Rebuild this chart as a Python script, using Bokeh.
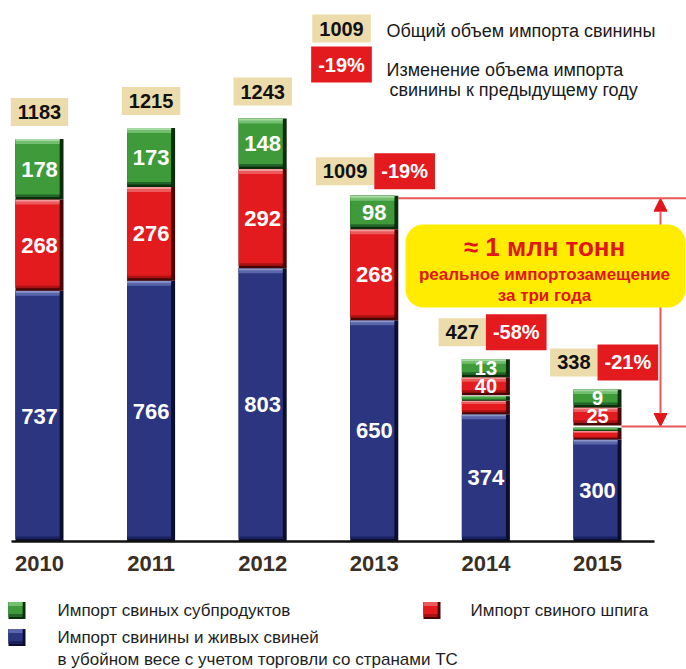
import numpy as np
from bokeh.plotting import figure
from bokeh.models import Range1d, FixedTicker, Arrow, NormalHead
from bokeh.layouts import column
from bokeh.core.properties import value
from bokeh.embed import file_html
from bokeh.resources import INLINE

# ---------------- data ----------------
years = ["2010", "2011", "2012", "2013", "2014", "2015"]
pork_live = [737, 766, 803, 650, 374, 300]   # blue
lard = [268, 276, 292, 268, 40, 25]          # red
offal = [178, 173, 148, 98, 13, 9]           # green
totals = [1183, 1215, 1243, 1009, 427, 338]
changes = ["", "", "", "-19%", "-58%", "-21%"]

legend_offal = "Импорт свиных субпродуктов"
legend_lard = "Импорт свиного шпига"
legend_pork = ["Импорт свинины и живых свиней",
               "в убойном весе с учетом торговли со странами ТС"]
key_total = "Общий объем импорта свинины"
key_change = ["Изменение объема импорта", "свинины к предыдущему году"]
callout = ["≈ 1 млн тонн", "реальное импортозамещение", "за три года"]

# ---------------- layout / style ----------------
W, MAIN_H, LEG_H = 686, 578, 91
FRAME_H = 541
YMAX = 1590
SPX = 111.6
X0 = -39 / SPX
X1 = X0 + W / SPX
PPU = FRAME_H / YMAX
BW = 48 / SPX
FONT = value("Liberation Sans")


def dy(px):
    return px / PPU


def dxu(px):
    return px / SPX


def px_x(page):
    return X0 + page / SPX


def px_y(page):
    return (FRAME_H - page) / PPU


BLUE = dict(main="#2b3580", mid="#1a2160", dark="#0a0e30", light="#5a66aa", lighter="#8c96c8")
RED = dict(main="#e31b1e", mid="#a81212", dark="#4a0505", light="#ec5a5c", lighter="#f39a9a")
GREEN = dict(main="#3f9b3a", mid="#23662a", dark="#0c2e0c", light="#72bf6e", lighter="#a8d8a4")
TAN = "#ecdcab"
BOXRED = "#e31b1e"
LINE_RED = "#e8585a"
HEAD_RED = "#e0161b"
YELLOW = "#ffec00"


def bevel(fig, x, bot, top, c, width):
    x = np.asarray(x, float)
    bot = np.asarray(bot, float)
    top = np.asarray(top, float)
    h = top - bot
    db = np.minimum(dy(5), 0.3 * h)
    dh = np.minimum(dy(5), 0.25 * h)
    r = dxu(4)
    xi = x - r / 2
    wi = width - r
    fig.vbar(x=x, width=width, bottom=bot, top=top, fill_color=c["dark"], line_color=None)
    fig.vbar(x=xi, width=wi, bottom=bot + db * 0.5, top=top, fill_color=c["mid"], line_color=None)
    fig.vbar(x=xi, width=wi, bottom=bot + db, top=top, fill_color=c["main"], line_color=None)
    fig.vbar(x=xi, width=wi, bottom=top - dh, top=top, fill_color=c["light"], line_color=None)
    fig.vbar(x=xi, width=wi, bottom=top - dh * 0.4, top=top, fill_color=c["lighter"], line_color=None)


p = figure(width=W, height=MAIN_H, x_range=Range1d(X0, X1), y_range=Range1d(0, YMAX),
           output_backend="svg", toolbar_location=None, y_axis_location=None,
           min_border_left=0, min_border_right=0, min_border_top=0,
           min_border_bottom=MAIN_H - FRAME_H,
           outline_line_color=None, background_fill_color="white", border_fill_color="white")
p.xgrid.visible = False
p.ygrid.visible = False

idx = np.arange(len(years))

# guide lines and arrow (behind everything)
i13, i15 = years.index("2013"), years.index("2015")
p.segment(x0=[i13 + BW / 2, i15 + BW / 2], y0=[totals[i13], totals[i15]],
          x1=[X1, X1], y1=[totals[i13], totals[i15]], line_color=LINE_RED, line_width=2)
AX = px_x(660)
p.add_layout(Arrow(start=NormalHead(size=13, fill_color=HEAD_RED, line_color=HEAD_RED),
                   end=NormalHead(size=13, fill_color=HEAD_RED, line_color=HEAD_RED),
                   x_start=AX, y_start=totals[i15], x_end=AX, y_end=totals[i13],
                   line_color=LINE_RED, line_width=2, level="underlay"))

# stacked bars
series = [(pork_live, BLUE), (lard, RED), (offal, GREEN)]
base = np.zeros(len(years))
small_by_bar = [[] for _ in years]
for vals, c in series:
    v = np.asarray(vals, float)
    bot, top = base.copy(), base + v
    bevel(p, idx, bot, top, c, BW)
    big = v * PPU >= 24
    p.text(x=idx[big], y=((bot + top) / 2)[big], text=[str(int(a)) for a in v[big]],
           text_font=FONT, text_font_style="bold", text_font_size="22px",
           text_color="white", text_align="center", text_baseline="middle")
    for i in np.where(~big)[0]:
        small_by_bar[i].append((int(v[i]), c))
    base = top

# badges for segments too thin to hold their label
BADGE_H, BADGE_GAP = 18, 1
stack_top = np.array(totals, float)
for i, items in enumerate(small_by_bar):
    for k, (val, c) in enumerate(items):
        b0 = totals[i] + dy(BADGE_GAP + k * BADGE_H)
        b1 = b0 + dy(BADGE_H)
        bevel(p, [i], [b0], [b1], c, BW)
        p.text(x=[i], y=[(b0 + b1) / 2], text=[str(val)], text_font=FONT, text_font_style="bold",
               text_font_size="20px", text_color="white", text_align="center", text_baseline="middle")
    if items:
        stack_top[i] = totals[i] + dy(BADGE_GAP + len(items) * BADGE_H)

# total labels
LABEL_OFF = 27
PAD = dict(left=7, right=7, top=7, bottom=7)
has = np.array([c != "" for c in changes])
p.text(x=idx[~has], y=stack_top[~has], text=[str(totals[i]) for i in idx[~has]],
       text_font=FONT, text_font_style="bold", text_font_size="20px", text_color="#111111",
       text_align="center", text_baseline="middle", y_offset=-LABEL_OFF,
       background_fill_color=TAN, padding=PAD)
p.text(x=idx[has], y=stack_top[has], text=[str(totals[i]) for i in idx[has]],
       text_font=FONT, text_font_style="bold", text_font_size="20px", text_color="#111111",
       text_align="right", text_baseline="middle", y_offset=-LABEL_OFF,
       background_fill_color=TAN, padding=PAD)
p.text(x=idx[has], y=stack_top[has], text=[changes[i] for i in idx[has]],
       text_font=FONT, text_font_style="bold", text_font_size="20px", text_color="white",
       text_align="left", text_baseline="middle", y_offset=-LABEL_OFF,
       background_fill_color=BOXRED, padding=PAD)

# key at top
p.text(x=[px_x(341)], y=[px_y(28)], text=[str(totals[i13])], text_font=FONT, text_font_style="bold",
       text_font_size="20px", text_color="#111111", text_align="center", text_baseline="middle",
       background_fill_color=TAN, padding=PAD)
p.text(x=[px_x(341)], y=[px_y(64)], text=[changes[i13]], text_font=FONT, text_font_style="bold",
       text_font_size="20px", text_color="white", text_align="center", text_baseline="middle",
       background_fill_color=BOXRED, padding=PAD)
p.text(x=[px_x(386)], y=[px_y(30)], text=[key_total], text_font=FONT, text_font_size="18px",
       text_color="#1a1a1a", text_align="left", text_baseline="middle")
p.text(x=[px_x(386), px_x(389)], y=[px_y(69), px_y(89)], text=key_change, text_font=FONT,
       text_font_size="18px", text_color="#1a1a1a", text_align="left", text_baseline="middle")

# yellow callout
qkw = dict(left=px_x(405), right=px_x(685), top=px_y(224), bottom=px_y(307),
           fill_color=YELLOW, line_color=None)
try:
    p.quad(border_radius=18, **qkw)
except Exception:
    p.quad(**qkw)
cx = px_x(544)
p.text(x=[cx], y=[px_y(246)], text=[callout[0]], text_font=FONT, text_font_style="bold",
       text_font_size="26px", text_color=HEAD_RED, text_align="center", text_baseline="middle")
p.text(x=[cx, cx], y=[px_y(274), px_y(295)], text=callout[1:], text_font=FONT, text_font_style="bold",
       text_font_size="17px", text_color=HEAD_RED, text_align="center", text_baseline="middle")

# x axis
ax = p.xaxis[0]
ax.ticker = FixedTicker(ticks=[int(i) for i in idx])
ax.major_label_overrides = {int(i): y for i, y in zip(idx, years)}
ax.major_label_text_font = "Liberation Sans"
ax.major_label_text_font_style = "bold"
ax.major_label_text_font_size = "22px"
ax.major_label_text_color = "#3b2e22"
ax.major_tick_line_color = None
ax.minor_tick_line_color = None
ax.axis_line_color = "#111111"
ax.axis_line_width = 2.5
ax.major_label_standoff = 8
ax.bounds = (px_x(11), px_x(654))

# ---------------- legend figure ----------------
q = figure(width=W, height=LEG_H, x_range=Range1d(0, W), y_range=Range1d(LEG_H, 0),
           output_backend="svg", toolbar_location=None, x_axis_location=None, y_axis_location=None,
           min_border_left=0, min_border_right=0, min_border_top=0, min_border_bottom=0,
           outline_line_color=None, background_fill_color="white", border_fill_color="white")
q.xgrid.visible = False
q.ygrid.visible = False


def bevel_sq(fig, l, cy, c, s=17):
    t, b, r = cy - s / 2, cy + s / 2, l + s
    fig.quad(left=l, right=r, top=t, bottom=b, fill_color=c["dark"], line_color=None)
    fig.quad(left=l, right=r - 3, top=t, bottom=b - 2, fill_color=c["mid"], line_color=None)
    fig.quad(left=l, right=r - 3, top=t, bottom=b - 5, fill_color=c["main"], line_color=None)
    fig.quad(left=l, right=r - 3, top=t, bottom=t + 4, fill_color=c["light"], line_color=None)


R1, R2, R3 = 32, 59, 81
bevel_sq(q, 8, R1, GREEN)
bevel_sq(q, 423, R1, RED)
bevel_sq(q, 8, R2, BLUE)
q.text(x=[57, 470, 57, 57], y=[R1, R1, R2, R3],
       text=[legend_offal, legend_lard, legend_pork[0], legend_pork[1]],
       text_font=FONT, text_font_size="17px", text_color="#1e1e1e",
       text_align="left", text_baseline="middle")

layout = column(p, q)
open("out.html", "w").write(file_html(layout, INLINE))
